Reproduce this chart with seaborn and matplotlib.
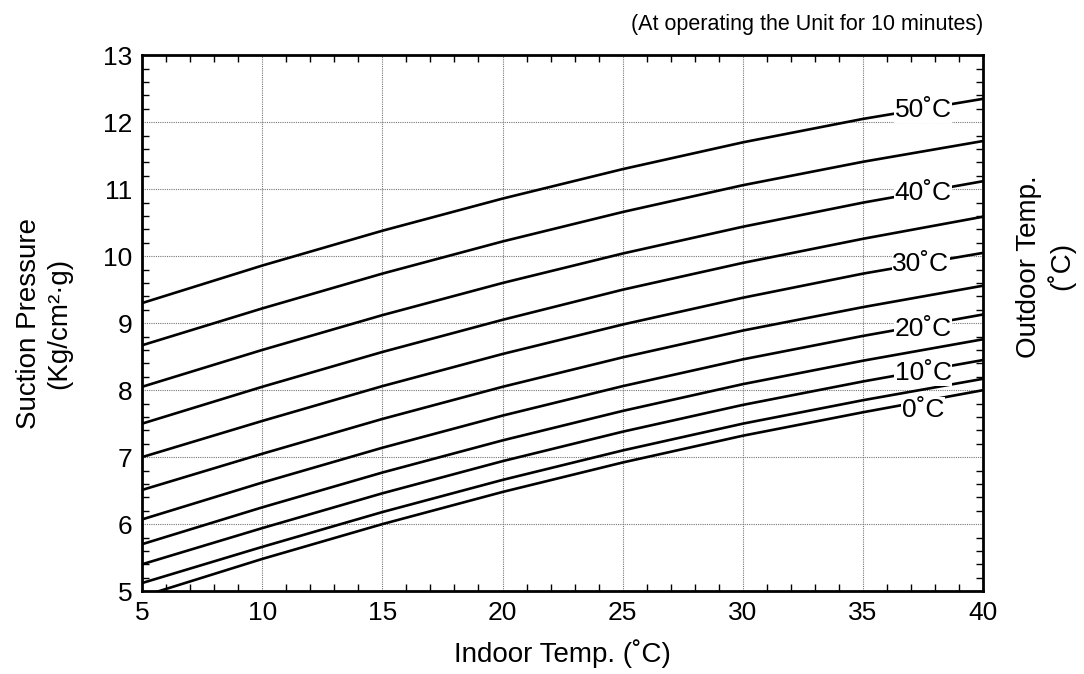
import numpy as np
import pandas as pd
import seaborn as sns
import matplotlib.pyplot as plt
from matplotlib.ticker import MultipleLocator

# Indoor temperature points (x) where values were read
indoor = [5, 10, 15, 20, 25, 30, 35, 40]

# Suction pressure for each outdoor temperature
p50 = [9.30, 9.86, 10.38, 10.86, 11.30, 11.70, 12.05, 12.35]
p45 = [8.67, 9.22, 9.74, 10.22, 10.66, 11.06, 11.41, 11.72]
p40 = [8.05, 8.60, 9.12, 9.60, 10.04, 10.44, 10.80, 11.12]
p35 = [7.50, 8.05, 8.57, 9.05, 9.50, 9.90, 10.26, 10.59]
p30 = [7.00, 7.54, 8.06, 8.54, 8.98, 9.38, 9.74, 10.05]
p25 = [6.51, 7.05, 7.57, 8.05, 8.49, 8.89, 9.24, 9.56]
p20 = [6.07, 6.62, 7.14, 7.62, 8.06, 8.46, 8.81, 9.13]
p15 = [5.70, 6.25, 6.77, 7.25, 7.69, 8.09, 8.44, 8.76]
p10 = [5.40, 5.94, 6.46, 6.94, 7.38, 7.78, 8.13, 8.45]
p05 = [5.12, 5.66, 6.18, 6.66, 7.10, 7.50, 7.85, 8.17]
p00 = [4.92, 5.48, 6.00, 6.48, 6.92, 7.32, 7.67, 8.00]

outdoor = [50, 45, 40, 35, 30, 25, 20, 15, 10, 5, 0]
series = [p50, p45, p40, p35, p30, p25, p20, p15, p10, p05, p00]

# Curve labels: (text, x, y)
label_text = ["50˚C", "40˚C", "30˚C", "20˚C", "10˚C", "0˚C"]
label_x = [37.5, 37.5, 37.4, 37.5, 37.5, 37.5]
label_y = [12.18, 10.94, 9.89, 8.92, 8.25, 7.71]

rows = []
for t, vals in zip(outdoor, series):
    for x, v in zip(indoor, vals):
        rows.append({"indoor": x, "pressure": v, "outdoor": t})
df = pd.DataFrame(rows)

sns.set_style("ticks")
plt.rcParams["font.family"] = ["Liberation Sans", "DejaVu Sans"]
plt.rcParams["text.color"] = "black"
plt.rcParams["axes.labelcolor"] = "black"
plt.rcParams["xtick.color"] = "black"
plt.rcParams["ytick.color"] = "black"

fig = plt.figure(figsize=(10.84, 6.74), dpi=100)
ax = fig.add_axes([0.131, 0.123, 0.776, 0.795])

sns.lineplot(data=df, x="indoor", y="pressure", hue="outdoor",
             palette=["black"] * len(outdoor), legend=False,
             linewidth=1.9, ax=ax, zorder=3)

for txt, x, y in zip(label_text, label_x, label_y):
    ax.text(x, y, txt, fontsize=19, ha="center", va="center", zorder=4,
            bbox=dict(facecolor="white", edgecolor="none", pad=0.3))

ax.set_xlim(5, 40)
ax.set_ylim(5, 13)
ax.xaxis.set_major_locator(MultipleLocator(5))
ax.xaxis.set_minor_locator(MultipleLocator(1))
ax.yaxis.set_major_locator(MultipleLocator(1))
ax.yaxis.set_minor_locator(MultipleLocator(0.2))
ax.grid(True, which="major", linestyle=(0, (1, 1)), color="#777777", linewidth=0.8)
ax.tick_params(which="major", length=0, labelsize=19, pad=7)
ax.tick_params(which="minor", direction="in", length=5, width=1,
               top=True, right=True, bottom=True, left=True)
for s in ax.spines.values():
    s.set_linewidth(2)
    s.set_color("black")

ax.set_xlabel("Indoor Temp. (˚C)", fontsize=20, labelpad=10)
ax.set_ylabel("Suction Pressure\n(Kg/cm²·g)", fontsize=20, labelpad=22)

fig.text(0.965, 0.605, "Outdoor Temp.\n(˚C)", rotation=90, fontsize=20,
         ha="center", va="center", multialignment="center")
fig.text(0.907, 0.963, "(At operating the Unit for 10 minutes)", fontsize=15.5,
         ha="right", va="center")

fig.savefig("out.png", dpi=100)
